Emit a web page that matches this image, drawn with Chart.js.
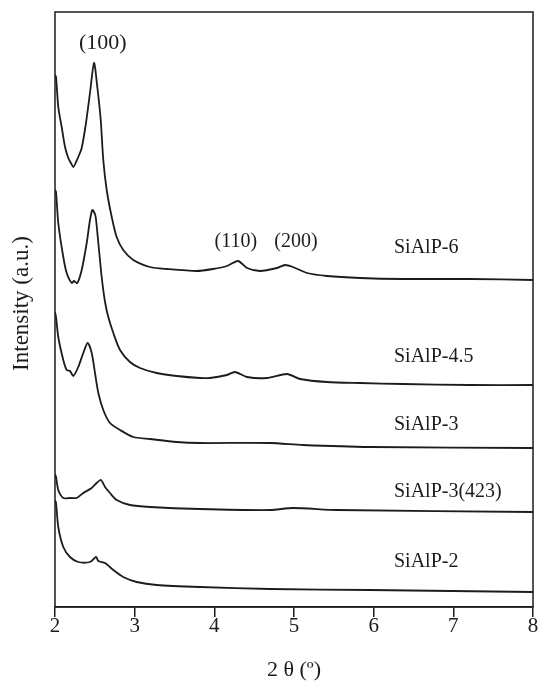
<!DOCTYPE html>
<html>
<head>
<meta charset="utf-8">
<script src="https://cdn.jsdelivr.net/npm/chart.js@4/dist/chart.umd.min.js"></script>
<style>
  html, body { margin: 0; padding: 0; background: #fff; }
  #wrap { width: 539px; height: 691px; }
</style>
</head>
<body>
<div id="wrap"><canvas id="xrd" width="539" height="691"></canvas></div>
<script>
// 2-theta positions and intensities (a.u., stacked offsets)
const tt6  = [2.000, 2.013, 2.041, 2.084, 2.126, 2.167, 2.200, 2.230, 2.264, 2.292, 2.335, 2.389, 2.439, 2.490, 2.531, 2.574, 2.606, 2.649, 2.712, 2.774, 2.857, 2.983, 3.192, 3.402, 3.779, 3.983, 4.159, 4.297, 4.410, 4.573, 4.787, 4.887, 4.987, 5.163, 5.414, 5.828, 6.368, 7.209, 8.000];
const int6 = [532, 530, 500, 480, 460, 449, 444, 440, 445, 450, 459, 484, 514, 544, 520, 487, 447, 417, 390, 370, 357, 347, 340, 338, 336, 338, 341, 346, 339, 336, 339, 342, 340, 334, 331, 329, 328, 328, 327];

const tt45  = [2.000, 2.013, 2.041, 2.104, 2.147, 2.210, 2.238, 2.280, 2.335, 2.398, 2.439, 2.468, 2.490, 2.511, 2.544, 2.586, 2.628, 2.669, 2.732, 2.816, 2.941, 3.067, 3.277, 3.528, 3.820, 3.946, 4.159, 4.259, 4.410, 4.661, 4.912, 5.075, 5.414, 5.828, 6.368, 7.209, 8.000];
const int45 = [417, 415, 384, 350, 334, 324, 326, 324, 337, 364, 387, 397, 395, 390, 364, 330, 305, 290, 274, 257, 245, 239, 234, 231, 229, 229, 232, 235, 230, 229, 233, 228, 225, 224, 223, 222, 222];

const tt3  = [2.000, 2.013, 2.041, 2.104, 2.147, 2.188, 2.230, 2.292, 2.355, 2.410, 2.461, 2.502, 2.544, 2.606, 2.690, 2.816, 2.983, 3.192, 3.528, 3.820, 4.699, 5.113, 5.954, 8.000];
const int3 = [295, 290, 270, 247, 237, 236, 231, 240, 254, 264, 254, 234, 214, 197, 184, 177, 170, 168, 165, 164, 164, 162, 160, 159];

const tt3b  = [2.000, 2.013, 2.041, 2.104, 2.188, 2.272, 2.355, 2.461, 2.523, 2.577, 2.628, 2.690, 2.774, 2.941, 3.192, 3.820, 4.699, 4.987, 5.540, 8.000];
const int3b = [133, 130, 117, 109, 109, 109, 114, 119, 124, 127, 120, 114, 107, 102, 100, 98, 97, 99, 97, 95];

const tt2  = [2.000, 2.013, 2.041, 2.104, 2.188, 2.292, 2.439, 2.515, 2.544, 2.628, 2.732, 2.857, 3.025, 3.277, 3.820, 4.699, 5.954, 8.000];
const int2 = [107, 104, 80, 60, 50, 45, 45, 50, 46, 44, 37, 30, 25, 22, 20, 18, 17, 15];

const sampleNames = ["SiAlP-6", "SiAlP-4.5", "SiAlP-3", "SiAlP-3(423)", "SiAlP-2"];
const nameX = [6.255, 6.255, 6.255, 6.255, 6.255];
const nameY = [359, 250, 182, 115, 45];

const peakNames = ["(100)", "(110)", "(200)"];
const peakX = [2.60, 4.27, 5.025];
const peakY = [564, 365, 365];

const xTicks = [2, 3, 4, 5, 6, 7, 8];

const ink = "#1c1c1c";
const serif = "'Liberation Serif', 'DejaVu Serif', serif";

function pts(xs, ys) {
  return xs.map((x, i) => ({ x: x, y: ys[i] }));
}

const series = [
  pts(tt6, int6), pts(tt45, int45), pts(tt3, int3), pts(tt3b, int3b), pts(tt2, int2)
];

const textPlugin = {
  id: "xrdText",
  afterDraw(chart) {
    const ctx = chart.ctx;
    const a = chart.chartArea;
    const xs = chart.scales.x, ys = chart.scales.y;
    ctx.save();
    ctx.strokeStyle = ink;
    ctx.lineWidth = 1.5;
    ctx.strokeRect(a.left, a.top, a.right - a.left, a.bottom - a.top);

    ctx.fillStyle = ink;
    ctx.textBaseline = "middle";
    ctx.textAlign = "left";
    ctx.font = "20px " + serif;
    sampleNames.forEach((n, i) => {
      ctx.fillText(n, xs.getPixelForValue(nameX[i]), ys.getPixelForValue(nameY[i]));
    });

    ctx.textAlign = "center";
    peakNames.forEach((n, i) => {
      ctx.font = (i === 0 ? "22px " : "20px ") + serif;
      ctx.fillText(n, xs.getPixelForValue(peakX[i]), ys.getPixelForValue(peakY[i]));
    });

    // y axis title
    ctx.translate(a.left - 33, (a.top + a.bottom) / 2 - 6);
    ctx.rotate(-Math.PI / 2);
    ctx.font = "23px " + serif;
    ctx.fillText("Intensity (a.u.)", 0, 0);
    ctx.restore();
  }
};

new Chart(document.getElementById("xrd"), {
  type: "line",
  data: {
    datasets: series.map((d, i) => ({
      label: sampleNames[i],
      data: d,
      borderColor: ink,
      borderWidth: 1.8,
      pointRadius: 0,
      tension: 0.25,
      fill: false
    }))
  },
  options: {
    responsive: false,
    animation: false,
    layout: { padding: { left: 55, top: 12, right: 6, bottom: 0 } },
    plugins: { legend: { display: false }, tooltip: { enabled: false } },
    scales: {
      x: {
        type: "linear",
        min: 2,
        max: 8,
        afterBuildTicks: s => { s.ticks = xTicks.map(v => ({ value: v })); },
        afterFit: s => { s.height = 84; },
        grid: { drawOnChartArea: false, drawTicks: true, tickLength: 10, color: ink, lineWidth: 1.5 },
        border: { display: true, color: ink, width: 1.5 },
        ticks: { color: ink, font: { family: serif, size: 21 }, padding: -3, maxRotation: 0 },
        title: { display: true, text: "2 θ (º)", color: ink, font: { family: serif, size: 22 }, padding: { top: 0, bottom: 8 } }
      },
      y: {
        display: false,
        min: 0,
        max: 595
      }
    }
  },
  plugins: [textPlugin]
});
</script>
</body>
</html>
